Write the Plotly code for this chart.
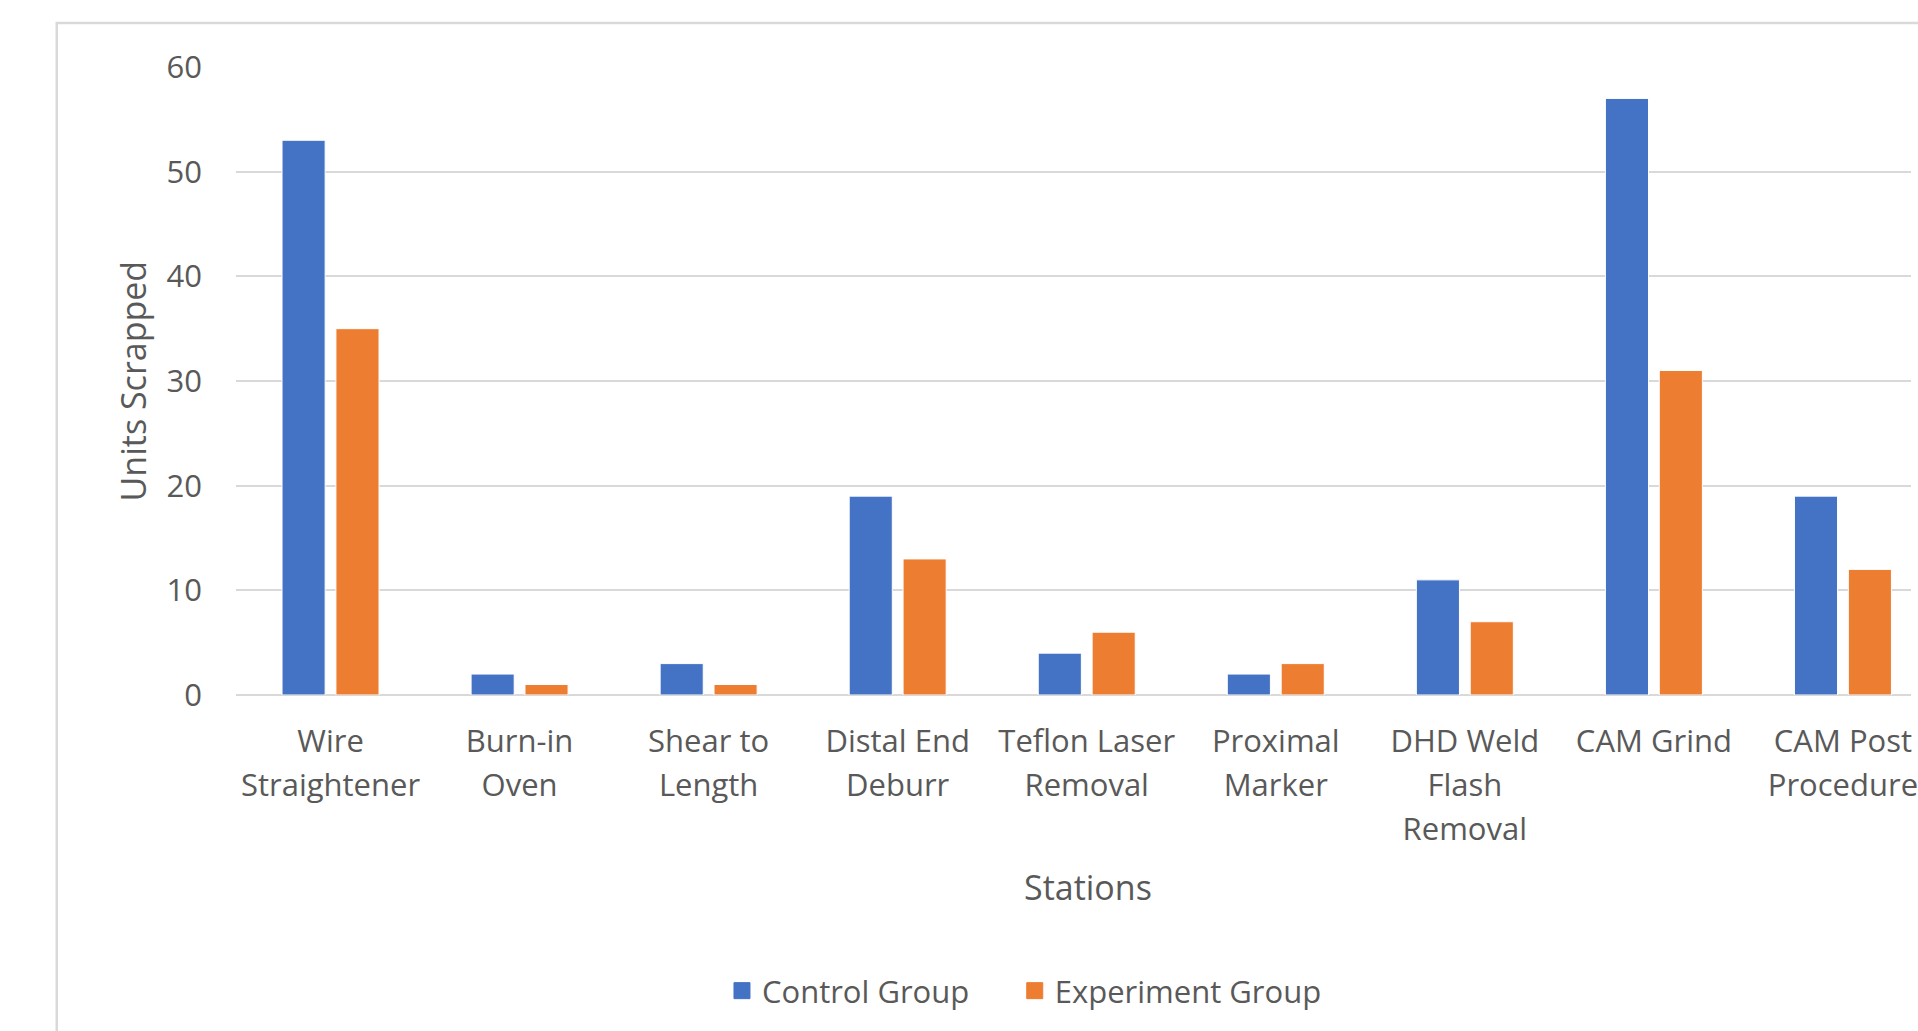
import plotly.graph_objects as go

stations = ["Wire<br>Straightener", "Burn-in<br>Oven", "Shear to<br>Length",
            "Distal End<br>Deburr", "Teflon Laser<br>Removal", "Proximal<br>Marker",
            "DHD Weld<br>Flash<br>Removal", "CAM Grind", "CAM Post<br>Procedure"]
control = [53, 2, 3, 19, 4, 2, 11, 57, 19]
experiment = [35, 1, 1, 13, 6, 3, 7, 31, 12]
y_ticks = [0, 10, 20, 30, 40, 50, 60]

BLUE = "#4472C4"
ORANGE = "#ED7D31"
TEXT = "#595959"
GRID = "#D9D9D9"
FONT = "Open Sans"

W, H = 1918, 1031
L, R, T, B = 236, 0, 67, 336
pw = W - L - R
ph = H - T - B


def px_x(x):
    return (x - L) / pw


def px_y(y):
    return (H - B - y) / ph


def wrap_label(s, size=31):
    return "<br>".join('<span style="font-size:%dpx">%s</span>' % (size, part)
                       for part in s.split("<br>"))


fig = go.Figure()
fig.add_trace(go.Bar(x=stations, y=control, name="Control Group",
                     marker=dict(color=BLUE, line=dict(color="white", width=1)),
                     showlegend=False))
fig.add_trace(go.Bar(x=stations, y=experiment, name="Experiment Group",
                     marker=dict(color=ORANGE, line=dict(color="white", width=1)),
                     showlegend=False))
# legend entries (one legend each, placed like the original)
fig.add_trace(go.Scatter(x=[None], y=[None], mode="markers", name="Control Group",
                         marker=dict(symbol="square", size=16, color=BLUE,
                                     line=dict(color=BLUE, width=1)),
                         legend="legend"))
fig.add_trace(go.Scatter(x=[None], y=[None], mode="markers", name="Experiment Group",
                         marker=dict(symbol="square", size=16, color=ORANGE,
                                     line=dict(color=ORANGE, width=1)),
                         legend="legend2"))

leg_common = dict(orientation="h", xanchor="left", yanchor="middle",
                  font=dict(size=31, color=TEXT), bgcolor="rgba(0,0,0,0)",
                  borderwidth=0)

fig.update_layout(
    width=W, height=H,
    margin=dict(l=L, r=R, t=T, b=B, pad=0),
    paper_bgcolor="white", plot_bgcolor="white",
    barmode="group", bargap=0.43, bargroupgap=0.2,
    font=dict(family=FONT, size=31, color=TEXT),
    legend=dict(x=px_x(724), y=px_y(991), **leg_common),
    legend2=dict(x=px_x(1018), y=px_y(991), **leg_common),
    xaxis=dict(categoryorder="array", categoryarray=stations,
               tickmode="array", tickvals=stations,
               ticktext=[wrap_label(s) for s in stations],
               range=[-0.5, 8.36], showgrid=False, zeroline=False,
               showline=False, ticks="", tickfont=dict(size=34, color=TEXT),
               ticklabelstandoff=22),
    yaxis=dict(range=[0, 60], tickvals=y_ticks, showgrid=True, gridcolor=GRID,
               gridwidth=2, zeroline=True, zerolinecolor=GRID, zerolinewidth=2,
               showline=False, ticks="", tickfont=dict(size=31, color=TEXT),
               ticklabelstandoff=33),
    shapes=[dict(type="rect", xref="paper", yref="paper",
                 x0=px_x(56), x1=1.3, y0=-1.0, y1=px_y(23),
                 line=dict(color=GRID, width=2.5), fillcolor="rgba(0,0,0,0)",
                 layer="below")],
    annotations=[
        dict(text="Units Scrapped", xref="paper", yref="paper", x=px_x(133), y=0.5,
             textangle=-90, showarrow=False, xanchor="center", yanchor="middle",
             font=dict(size=34, color=TEXT)),
        dict(text="Stations", xref="paper", yref="paper", x=px_x(1092), y=px_y(887),
             showarrow=False, xanchor="center", yanchor="middle",
             font=dict(size=34, color=TEXT)),
    ],
)

fig.write_html("out.html")
